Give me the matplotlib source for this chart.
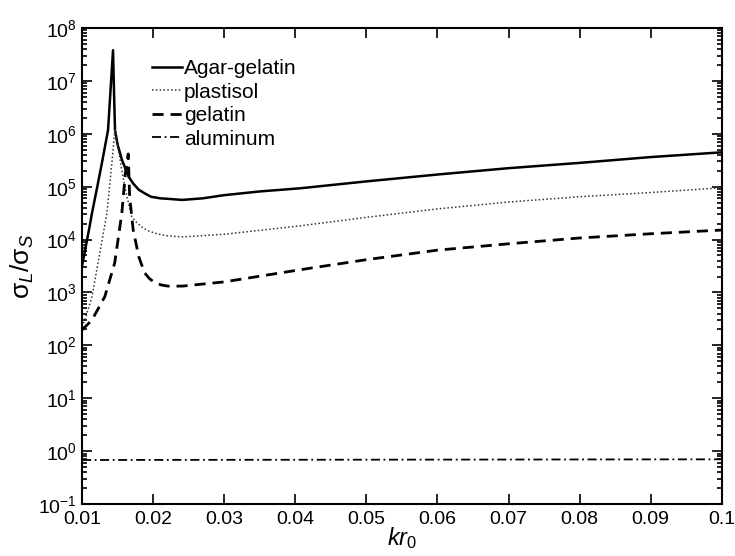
import numpy as np
import matplotlib
matplotlib.use("Agg")
import matplotlib.pyplot as plt
from matplotlib.ticker import LogLocator, FixedLocator, FuncFormatter, NullFormatter

plt.rcParams['font.family'] = ['Liberation Sans', 'DejaVu Sans']
plt.rcParams['mathtext.fontset'] = 'custom'
plt.rcParams['mathtext.rm'] = 'Liberation Sans'
plt.rcParams['mathtext.it'] = 'Liberation Sans:italic'
plt.rcParams['mathtext.default'] = 'it'

# values: kr0 and log10(sigma_L / sigma_S)
agar_kr = [0.0100, 0.0110, 0.0114, 0.0120, 0.0128, 0.01366, 0.0140, 0.01436,
           0.0145, 0.01464, 0.0150, 0.01563, 0.0166, 0.0172, 0.0180, 0.0190,
           0.0197, 0.0210, 0.0221, 0.0241, 0.0270, 0.0300, 0.0350, 0.0407,
           0.0500, 0.0600, 0.0700, 0.0800, 0.0900, 0.1000]
agar_log = [3.50, 4.20, 4.50, 4.90, 5.45, 6.07, 6.80, 7.58,
            6.80, 6.07, 5.80, 5.50, 5.18, 5.06, 4.94, 4.86,
            4.81, 4.78, 4.77, 4.75, 4.78, 4.84, 4.91, 4.97,
            5.10, 5.23, 5.35, 5.45, 5.56, 5.65]

plast_kr = [0.0100, 0.0104, 0.0114, 0.0124, 0.0135, 0.0142, 0.01464, 0.0150,
            0.0156, 0.0161, 0.0170, 0.0177, 0.0184, 0.0192, 0.0203, 0.0212,
            0.0221, 0.0241, 0.0300, 0.0407, 0.0500, 0.0600, 0.0700, 0.0800,
            0.0900, 0.1000]
plast_log = [2.35, 2.48, 2.92, 3.67, 4.50, 5.45, 6.10, 5.80,
             5.31, 4.94, 4.43, 4.32, 4.24, 4.17, 4.12, 4.09,
             4.07, 4.05, 4.10, 4.26, 4.42, 4.58, 4.71, 4.81,
             4.89, 4.98]

gel_kr = [0.0100, 0.0114, 0.0132, 0.0146, 0.0156, 0.0161, 0.0165, 0.0167,
          0.0172, 0.0180, 0.0188, 0.0195, 0.0203, 0.0212, 0.0221, 0.0241,
          0.0300, 0.0407, 0.0500, 0.0600, 0.0700, 0.0800, 0.0900, 0.1000]
gel_log = [2.29, 2.48, 2.92, 3.56, 4.50, 5.26, 5.62, 4.81,
           4.18, 3.67, 3.37, 3.26, 3.18, 3.14, 3.12, 3.12,
           3.20, 3.43, 3.62, 3.80, 3.92, 4.03, 4.11, 4.18]

alu_kr = [0.0100, 0.1000]
alu_val = [0.68, 0.70]

fig = plt.figure(figsize=(7.35, 5.56), dpi=100)
ax = fig.add_axes([0.1116, 0.0935, 0.8704, 0.8561])

ax.plot(agar_kr, 10 ** np.array(agar_log), color='black', lw=1.8, ls='-', label='Agar-gelatin')
ax.plot(plast_kr, 10 ** np.array(plast_log), color='#333333', lw=1.1, ls=(0, (1, 1.5)), label='plastisol')
ax.plot(gel_kr, 10 ** np.array(gel_log), color='black', lw=2.0, ls=(0, (4, 2.5)), label='gelatin')
ax.plot(alu_kr, alu_val, color='black', lw=1.3, ls=(0, (5, 2, 1, 2)), label='aluminum')

ax.set_yscale('log')
ax.set_xlim(0.01, 0.1)
ax.set_ylim(1e-1, 1e8)

ax.xaxis.set_major_locator(FixedLocator([0.01, 0.02, 0.03, 0.04, 0.05, 0.06, 0.07, 0.08, 0.09, 0.1]))
ax.xaxis.set_major_formatter(FuncFormatter(lambda v, p: '%g' % v))
ax.yaxis.set_major_locator(LogLocator(base=10, numticks=20))
ax.yaxis.set_major_formatter(FuncFormatter(lambda v, p: r'$\mathrm{10^{%d}}$' % round(np.log10(v))))
ax.yaxis.set_minor_locator(LogLocator(base=10, subs=np.arange(2, 10), numticks=20))
ax.yaxis.set_minor_formatter(NullFormatter())

ax.tick_params(which='both', direction='in', top=True, right=True, labelsize=14, width=1.2)
ax.tick_params(which='major', length=7)
ax.tick_params(which='minor', length=3.5)
ax.tick_params(axis='x', pad=5)
for s in ax.spines.values():
    s.set_linewidth(1.5)

ax.set_xlabel(r'$kr_0$', fontsize=17, labelpad=-2)
ax.set_ylabel(r'$\mathrm{\sigma}_L/\mathrm{\sigma}_S$', fontsize=19, labelpad=2)

ax.legend(loc='upper left', bbox_to_anchor=(0.11, 0.935), frameon=False, fontsize=15,
          handlelength=1.4, handletextpad=0.1, labelspacing=0.22, borderpad=0, borderaxespad=0)

fig.savefig('out.png', dpi=100)
